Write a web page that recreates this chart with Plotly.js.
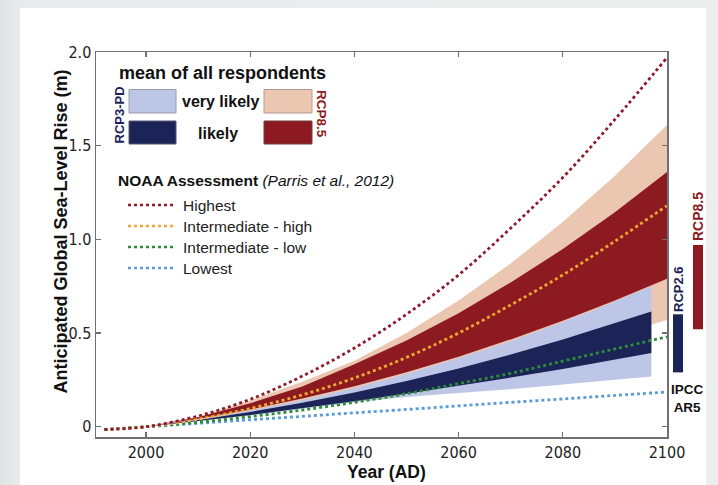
<!DOCTYPE html>
<html>
<head>
<meta charset="utf-8">
<script src="https://cdn.plot.ly/plotly-3.0.1.min.js"></script>
<style>
  html, body { margin: 0; padding: 0; }
  body { width: 718px; height: 485px; position: relative; overflow: hidden;
         background: linear-gradient(90deg, #dfe3e3 0px, #e8ebeb 20px, #eceeee 100%); }
  #card { position: absolute; left: 20px; top: 8px; width: 686px; height: 477px; background: #ffffff; }
  #chart { position: absolute; left: 0; top: 0; width: 718px; height: 485px; }
</style>
</head>
<body>
<div id="card"></div>
<div id="chart"></div>
<script>
// ---- NOAA scenario lines (Parris et al., 2012) ----
const lineYears = [1992, 2000, 2010, 2020, 2030, 2040, 2050, 2060, 2070, 2080, 2090, 2100];
const highest   = [-0.015, 0, 0.057, 0.146, 0.27, 0.42, 0.60, 0.81, 1.06, 1.33, 1.64, 1.97];
const interHigh = [-0.015, 0, 0.040, 0.097, 0.17, 0.26, 0.37, 0.50, 0.65, 0.81, 0.99, 1.18];
const interLow  = [-0.015, 0, 0.024, 0.054, 0.089, 0.13, 0.176, 0.23, 0.285, 0.35, 0.415, 0.48];
const lowest    = [-0.015, 0, 0.018, 0.037, 0.055, 0.074, 0.092, 0.111, 0.13, 0.148, 0.167, 0.185];

// ---- Expert survey bands, RCP8.5 ----
const years85      = [2000, 2010, 2020, 2030, 2040, 2050, 2060, 2070, 2080, 2090, 2100];
const rcp85VLupper = [0, 0.052, 0.140, 0.240, 0.352, 0.50, 0.674, 0.871, 1.093, 1.34, 1.61];
const rcp85VLlower = [0, 0.033, 0.071, 0.114, 0.163, 0.218, 0.277, 0.342, 0.413, 0.489, 0.57];
const rcp85Lupper  = [0, 0.050, 0.125, 0.215, 0.333, 0.46, 0.605, 0.77, 0.948, 1.145, 1.36];
const rcp85Llower  = [0, 0.042, 0.092, 0.150, 0.216, 0.291, 0.374, 0.466, 0.566, 0.674, 0.79];

// ---- Expert survey bands, RCP3-PD ----
const years3      = [2000, 2010, 2020, 2030, 2040, 2050, 2060, 2070, 2080, 2090, 2097];
const rcp3VLupper = [0, 0.038, 0.086, 0.141, 0.207, 0.281, 0.365, 0.456, 0.557, 0.668, 0.75];
const rcp3VLlower = [0, 0.030, 0.060, 0.095, 0.130, 0.158, 0.180, 0.200, 0.224, 0.250, 0.268];
const rcp3Lupper  = [0, 0.036, 0.079, 0.128, 0.183, 0.244, 0.311, 0.385, 0.465, 0.551, 0.615];
const rcp3Llower  = [0, 0.031, 0.063, 0.098, 0.136, 0.176, 0.217, 0.262, 0.308, 0.357, 0.393];

// ---- IPCC AR5 likely ranges at 2100 ----
const ipccRcp26 = [0.29, 0.60];
const ipccRcp85 = [0.52, 0.97];

// ---- tick labels ----
const xTickVals = [2000, 2020, 2040, 2060, 2080, 2100];
const yTickVals = [0, 0.5, 1.0, 1.5, 2.0];
const yTickText = ['0', '0.5', '1.0', '1.5', '2.0'];

const C = {
  peach: '#ebc6b0', red: '#8c1a20', lblue: '#bec6e8', navy: '#1b2357',
  hi: '#8e1b2b', ih: '#eea935', il: '#2f8b3c', lo: '#5b9bd6'
};
const SANS = '"Liberation Sans", Arial, sans-serif';
const NARROW = '"Liberation Sans Narrow", "Arial Narrow", "DejaVu Sans Condensed", sans-serif';

function band(xs, up, lo, color) {
  return {
    x: xs.concat(xs.slice().reverse()),
    y: up.concat(lo.slice().reverse()),
    type: 'scatter', mode: 'lines', fill: 'toself', fillcolor: color,
    line: {width: 0, color: color}, hoverinfo: 'skip', showlegend: false
  };
}
function dotted(xs, ys, color) {
  return {x: xs, y: ys, type: 'scatter', mode: 'lines',
          line: {color: color, width: 2.8, dash: '3px,3px', shape: 'spline'}, showlegend: false};
}

const traces = [
  band(years85, rcp85VLupper, rcp85VLlower, C.peach),
  band(years85, rcp85Lupper, rcp85Llower, C.red),
  band(years3, rcp3VLupper, rcp3VLlower, C.lblue),
  band(years3, rcp3Lupper, rcp3Llower, C.navy),
  dotted(lineYears, lowest, C.lo),
  dotted(lineYears, interLow, C.il),
  dotted(lineYears, interHigh, C.ih),
  dotted(lineYears, highest, C.hi)
];

// paper helpers for plot area 96..667 x 52..437 px
const px = p => (p - 96) / 571;
const py = p => (437 - p) / 385;

const shapes = [
  // legend swatches
  {type: 'rect', xref: 'paper', yref: 'paper', x0: px(129), x1: px(176), y0: py(113), y1: py(89.5), fillcolor: C.lblue, line: {color: '#9a9aa8', width: 1}},
  {type: 'rect', xref: 'paper', yref: 'paper', x0: px(129), x1: px(176), y0: py(144), y1: py(121), fillcolor: C.navy, line: {color: '#555a70', width: 1}},
  {type: 'rect', xref: 'paper', yref: 'paper', x0: px(264), x1: px(312), y0: py(113), y1: py(89.5), fillcolor: C.peach, line: {color: '#b09a90', width: 1}},
  {type: 'rect', xref: 'paper', yref: 'paper', x0: px(264), x1: px(312), y0: py(144), y1: py(121), fillcolor: C.red, line: {color: '#704040', width: 1}},
  // IPCC AR5 bars
  {type: 'rect', xref: 'paper', yref: 'y', x0: px(673), x1: px(683), y0: ipccRcp26[0], y1: ipccRcp26[1], fillcolor: C.navy, line: {width: 0}},
  {type: 'rect', xref: 'paper', yref: 'y', x0: px(693), x1: px(703), y0: ipccRcp85[0], y1: ipccRcp85[1], fillcolor: C.red, line: {width: 0}}
];
const legendLines = [
  {c: C.hi, y: 205, t: 'Highest'},
  {c: C.ih, y: 226, t: 'Intermediate - high'},
  {c: C.il, y: 247, t: 'Intermediate - low'},
  {c: C.lo, y: 268, t: 'Lowest'}
];
legendLines.forEach(l => shapes.push({type: 'line', xref: 'paper', yref: 'paper',
  x0: px(128), x1: px(173), y0: py(l.y), y1: py(l.y), line: {color: l.c, width: 2.6, dash: '3px,3px'}}));

const annotations = [
  {text: '<b>mean of all respondents</b>', x: px(117), y: py(73), xanchor: 'left', yanchor: 'middle', font: {family: SANS, size: 18, color: '#111'}},
  {text: '<b>very likely</b>', x: px(220.5), y: py(101), xanchor: 'center', yanchor: 'middle', font: {family: SANS, size: 16, color: '#111'}},
  {text: '<b>likely</b>', x: px(218), y: py(133), xanchor: 'center', yanchor: 'middle', font: {family: SANS, size: 16, color: '#111'}},
  {text: '<b>RCP3-PD</b>', x: px(119), y: py(115.5), textangle: -90, xanchor: 'center', yanchor: 'middle', font: {family: SANS, size: 13, color: C.navy}},
  {text: '<b>RCP8.5</b>', x: px(322), y: py(114), textangle: 90, xanchor: 'center', yanchor: 'middle', font: {family: SANS, size: 13.5, color: C.red}},
  {text: '<b>NOAA Assessment</b> <i>(Parris et al., 2012)</i>', x: px(116), y: py(180), xanchor: 'left', yanchor: 'middle', font: {family: SANS, size: 15.5, color: '#111'}},
  {text: '<b>RCP2.6</b>', x: px(678), y: py(289), textangle: -90, xanchor: 'center', yanchor: 'middle', font: {family: SANS, size: 13, color: C.navy}},
  {text: '<b>RCP8.5</b>', x: px(698), y: py(217), textangle: -90, xanchor: 'center', yanchor: 'middle', font: {family: SANS, size: 14, color: C.red}},
  {text: '<b>IPCC<br>AR5</b>', x: px(687), y: py(398), xanchor: 'center', yanchor: 'middle', font: {family: SANS, size: 13.5, color: '#111'}},
  {text: '<b>Anticipated Global Sea-Level Rise (m)</b>', x: px(60), y: py(231.5), textangle: -90, xanchor: 'center', yanchor: 'middle', font: {family: SANS, size: 18, color: '#111'}},
  {text: '<b>Year (AD)</b>', x: px(386.5), y: py(472), xanchor: 'center', yanchor: 'middle', font: {family: SANS, size: 17.5, color: '#111'}}
];
legendLines.forEach(l => annotations.push({text: l.t, x: px(181), y: py(l.y), xanchor: 'left', yanchor: 'middle',
  font: {family: SANS, size: 15.5, color: '#222'}}));
annotations.forEach(a => { a.xref = 'paper'; a.yref = 'paper'; a.showarrow = false; });

const axisCommon = {
  showline: true, linecolor: '#707070', linewidth: 1.5, mirror: 'ticks',
  ticks: 'inside', ticklen: 5, tickwidth: 1.2, tickcolor: '#707070',
  showgrid: false, zeroline: false, fixedrange: true,
  tickfont: {family: NARROW, size: 16, color: '#222'}
};

const layout = {
  width: 718, height: 485,
  margin: {l: 96, r: 51, t: 52, b: 48},
  paper_bgcolor: 'rgba(0,0,0,0)', plot_bgcolor: '#ffffff',
  showlegend: false,
  xaxis: Object.assign({}, axisCommon, {range: [1990.4, 2100], tickvals: xTickVals, ticktext: xTickVals.map(String)}),
  yaxis: Object.assign({}, axisCommon, {range: [-0.055, 2.0], tickvals: yTickVals, ticktext: yTickText}),
  shapes: shapes,
  annotations: annotations
};

Plotly.newPlot('chart', traces, layout, {displayModeBar: false, staticPlot: true});
</script>
</body>
</html>
